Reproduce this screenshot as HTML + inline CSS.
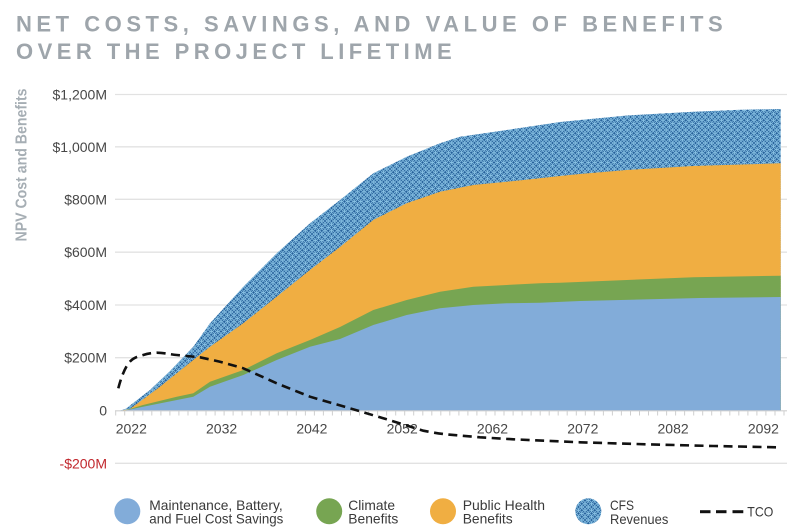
<!DOCTYPE html>
<html>
<head>
<meta charset="utf-8">
<style>
  html,body{margin:0;padding:0;background:#fff;}
  svg{display:block;}
  text{font-family:"Liberation Sans", sans-serif;}
</style>
</head>
<body>
<svg width="800" height="531" viewBox="0 0 800 531" xmlns="http://www.w3.org/2000/svg">
  <defs>
    <pattern id="cfs" patternUnits="userSpaceOnUse" width="6.5" height="6.5">
      <rect width="6.5" height="6.5" fill="#26609a"/>
      <circle cx="3.25" cy="3.25" r="3.25" fill="none" stroke="#86c0e3" stroke-width="0.8"/>
      <circle cx="0" cy="0" r="3.25" fill="none" stroke="#86c0e3" stroke-width="0.8"/>
      <circle cx="6.5" cy="0" r="3.25" fill="none" stroke="#86c0e3" stroke-width="0.8"/>
      <circle cx="0" cy="6.5" r="3.25" fill="none" stroke="#86c0e3" stroke-width="0.8"/>
      <circle cx="6.5" cy="6.5" r="3.25" fill="none" stroke="#86c0e3" stroke-width="0.8"/>
    </pattern>
  </defs>

  <!-- Title -->
  <text x="16" y="31.7" font-size="22" font-weight="bold" fill="#9ea5ab" textLength="706.7" lengthAdjust="spacing">NET COSTS, SAVINGS, AND VALUE OF BENEFITS</text>
  <text x="16" y="59" font-size="22" font-weight="bold" fill="#9ea5ab" textLength="435.7" lengthAdjust="spacing">OVER THE PROJECT LIFETIME</text>

  <!-- Y axis title -->
  <text transform="translate(26.3,165) rotate(-90)" x="0" y="0" text-anchor="middle" font-size="16" font-weight="bold" fill="#a6aeb4" textLength="153" lengthAdjust="spacingAndGlyphs">NPV Cost and Benefits</text>

  <!-- Gridlines -->
  <g stroke="#e2e2e2" stroke-width="1.3">
    <line x1="115" y1="94.5" x2="787" y2="94.5"/>
    <line x1="115" y1="146.8" x2="787" y2="146.8"/>
    <line x1="115" y1="199.3" x2="787" y2="199.3"/>
    <line x1="115" y1="252.2" x2="787" y2="252.2"/>
    <line x1="115" y1="305" x2="787" y2="305"/>
    <line x1="115" y1="357.7" x2="787" y2="357.7"/>
    <line x1="115" y1="463.3" x2="787" y2="463.3"/>
  </g>

  <!-- Y tick labels -->
  <g font-size="14" fill="#474747" text-anchor="end">
    <text x="107" y="99.5">$1,200M</text>
    <text x="107" y="151.8">$1,000M</text>
    <text x="107" y="204.3">$800M</text>
    <text x="107" y="257.2">$600M</text>
    <text x="107" y="310">$400M</text>
    <text x="107" y="362.7">$200M</text>
    <text x="107" y="415.5">0</text>
    <text x="107" y="468.3" fill="#c1272d">-$200M</text>
  </g>

  <!-- CFS (top) -->
  <polygon fill="url(#cfs)" points="115,410.5 120,410.5 125,409.3 150,390 170,371 193.3,346.7 210,323.3 243.3,286.7 276.7,253.3 310,223.3 340,200 373.3,173.3 406.7,156.7 440,143.3 460,136.7 506.7,130 540,125 560,122 580,120 626.7,115.5 693.3,111.7 740,109.7 780.7,109 780.7,410.5"/>
  <!-- Public health -->
  <polygon fill="#f0ae42" points="115,410.5 122,410.5 130,409 160,386.7 193.3,360 210,346.7 243.3,323.3 276.7,296.7 310,270 340,247 373.3,220 406.7,203.3 440,191.7 473.3,185 506.7,181.7 540,178.3 560,176 580,174 626.7,170 693.3,166 780.7,163.3 780.7,410.5"/>
  <!-- Climate -->
  <polygon fill="#77a552" points="115,410.5 125,410.5 143,405 176.7,396.7 193.3,393.3 210,381.7 243.3,370 276.7,353.3 310,340 340,327 373.3,310 406.7,300 440,291.7 473.3,286.7 506.7,285 540,283.3 560,282.7 626.7,280 693.3,277.3 780.7,275.7 780.7,410.5"/>
  <!-- Maintenance -->
  <polygon fill="#82acd9" points="115,410.5 125,410.5 143,406.7 193.3,396.7 210,386.7 243.3,375 276.7,360 310,346.7 340,339 373.3,325 406.7,315 440,308.3 473.3,305 506.7,303.3 540,302.7 580,301 640,299.5 700,298 780.7,297 780.7,410.5"/>

  <!-- Axis -->
  <line x1="115" y1="410.8" x2="787" y2="410.8" stroke="#cfcfcf" stroke-width="1.2"/>
  <g stroke="#cfcfcf" stroke-width="1">
    <path d="M115.7 411v4.5M124.7 411v4.5M133.8 411v4.5M142.8 411v4.5M151.8 411v4.5M160.9 411v4.5M169.9 411v4.5M178.9 411v4.5M188 411v4.5M197 411v4.5M206 411v4.5M215.1 411v4.5M224.1 411v4.5M233.1 411v4.5M242.1 411v4.5M251.2 411v4.5M260.2 411v4.5M269.2 411v4.5M278.3 411v4.5M287.3 411v4.5M296.3 411v4.5M305.4 411v4.5M314.4 411v4.5M323.4 411v4.5M332.4 411v4.5M341.5 411v4.5M350.5 411v4.5M359.5 411v4.5M368.6 411v4.5M377.6 411v4.5M386.6 411v4.5M395.7 411v4.5M404.7 411v4.5M413.7 411v4.5M422.8 411v4.5M431.8 411v4.5M440.8 411v4.5M449.8 411v4.5M458.9 411v4.5M467.9 411v4.5M476.9 411v4.5M486 411v4.5M495 411v4.5M504 411v4.5M513.1 411v4.5M522.1 411v4.5M531.1 411v4.5M540.2 411v4.5M549.2 411v4.5M558.2 411v4.5M567.2 411v4.5M576.3 411v4.5M585.3 411v4.5M594.3 411v4.5M603.4 411v4.5M612.4 411v4.5M621.4 411v4.5M630.5 411v4.5M639.5 411v4.5M648.5 411v4.5M657.6 411v4.5M666.6 411v4.5M675.6 411v4.5M684.6 411v4.5M693.7 411v4.5M702.7 411v4.5M711.7 411v4.5M720.8 411v4.5M729.8 411v4.5M738.8 411v4.5M747.9 411v4.5M756.9 411v4.5M765.9 411v4.5M775 411v4.5M784 411v4.5"/>
  </g>

  <!-- X labels -->
  <g font-size="14" fill="#474747" text-anchor="middle">
    <text x="131.3" y="433.5">2022</text>
    <text x="221.6" y="433.5">2032</text>
    <text x="311.9" y="433.5">2042</text>
    <text x="402.2" y="433.5">2052</text>
    <text x="492.5" y="433.5">2062</text>
    <text x="582.8" y="433.5">2072</text>
    <text x="673.1" y="433.5">2082</text>
    <text x="763.4" y="433.5">2092</text>
  </g>

  <!-- TCO dashed -->
  <path d="M118.3 388.3 C121 378 124 370 128 364 C132 358.5 136 357 140 356 C146 354 150 353 156.7 352.7 C165 353 170 354.3 176.7 355 L200 357.3 L220 361.7 L243.3 368.3 L276.7 383.3 L310 396.7 L350 408.3 L386.7 419.3 L423.3 430.7 C435 433 442 434 450 434.7 L480 437.3 L513.3 439.3 L580 442.3 L646.7 444.3 L713.3 446 L776.7 447.3" fill="none" stroke="#111" stroke-width="2.6" stroke-dasharray="9,5.5"/>

  <!-- Legend -->
  <circle cx="127.3" cy="511.3" r="13" fill="#82acd9"/>
  <circle cx="329.2" cy="511.3" r="13" fill="#77a552"/>
  <circle cx="443" cy="511.3" r="13" fill="#f0ae42"/>
  <circle cx="588.3" cy="511.3" r="13" fill="url(#cfs)"/>

  <g font-size="14" fill="#3a3a3a">
    <text x="149.3" y="510" textLength="133.4" lengthAdjust="spacingAndGlyphs">Maintenance, Battery,</text>
    <text x="149.3" y="523.3" textLength="134" lengthAdjust="spacingAndGlyphs">and Fuel Cost Savings</text>
    <text x="348.3" y="510" textLength="46.7" lengthAdjust="spacingAndGlyphs">Climate</text>
    <text x="348.3" y="523.3" textLength="50" lengthAdjust="spacingAndGlyphs">Benefits</text>
    <text x="462.7" y="510" textLength="82.3" lengthAdjust="spacingAndGlyphs">Public Health</text>
    <text x="462.7" y="523.3" textLength="50" lengthAdjust="spacingAndGlyphs">Benefits</text>
    <text x="610" y="510" textLength="24" lengthAdjust="spacingAndGlyphs">CFS</text>
    <text x="610" y="523.8" textLength="58.3" lengthAdjust="spacingAndGlyphs">Revenues</text>
    <text x="747.3" y="516.7" textLength="26" lengthAdjust="spacingAndGlyphs">TCO</text>
  </g>
  <g stroke="#111" stroke-width="3">
    <line x1="700" y1="511.7" x2="710.5" y2="511.7"/>
    <line x1="716" y1="511.7" x2="726.5" y2="511.7"/>
    <line x1="732.5" y1="511.7" x2="743.3" y2="511.7"/>
  </g>
</svg>
</body>
</html>
